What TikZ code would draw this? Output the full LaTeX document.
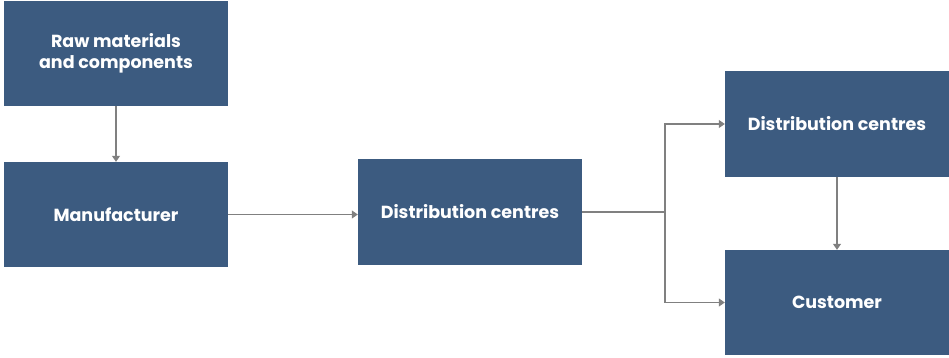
\documentclass[tikz,border=0pt]{standalone}
\usepackage{fontspec}
\setmainfont{Poppins}
\usetikzlibrary{arrows.meta}
\definecolor{boxblue}{HTML}{3C5B80}
\definecolor{linegray}{HTML}{808080}
\tikzset{
  box/.style={fill=boxblue, text=white, minimum width=224pt, minimum height=105pt,
    inner sep=0pt, align=center, font=\bfseries\fontsize{17.5}{21}\selectfont},
  conn/.style={draw=linegray, line width=1.1pt, -{Triangle[length=6pt,width=8pt]}},
  plain/.style={draw=linegray, line width=1.1pt}
}
\begin{document}
\begin{tikzpicture}[x=1pt,y=-1pt]
\useasboundingbox (0,0) rectangle (949,358);
\node[box] (raw) at (116,53.5) {Raw materials\\and components};
\node[box] (manu) at (116,214.5) {Manufacturer};
\node[box, minimum height=106pt] (mid) at (470,212) {Distribution centres};
\node[box, minimum height=106pt] (dc) at (837,124) {Distribution centres};
\node[box] (cust) at (837,302.5) {Customer};
\coordinate (br) at (665,212);
\draw[conn] (raw.south) -- (manu.north);
\draw[conn] (manu.east) -- (mid.west |- manu.east);
\draw[plain] (mid.east) -- (br);
\draw[conn] (br) |- (dc.west);
\draw[conn] (br) |- (cust.west);
\draw[conn] (dc.south) -- (cust.north);
\end{tikzpicture}
\end{document}
